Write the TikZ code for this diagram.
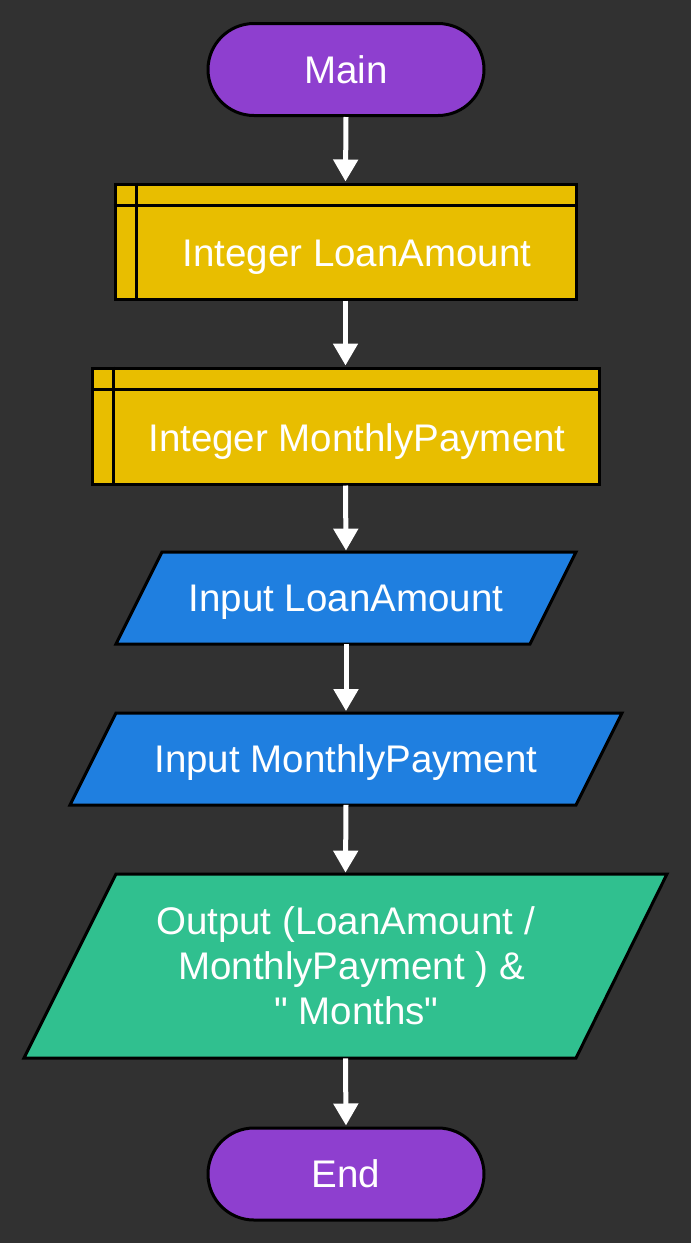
\documentclass[tikz,border=0pt]{standalone}
\usepackage{fontspec}
\setmainfont{Liberation Sans}[Ligatures=TeXOff]
\usetikzlibrary{arrows.meta,calc}
\definecolor{bgc}{HTML}{313131}
\definecolor{termc}{HTML}{8E3FCF}
\definecolor{declc}{HTML}{E8BE00}
\definecolor{inc}{HTML}{1F7FE0}
\definecolor{outc}{HTML}{30C08F}
\tikzset{
  txt/.style={text=white, font=\fontsize{19.25}{22.5}\selectfont, inner sep=0pt, align=center},
  oneline/.style={text height=13.8pt, text depth=0pt},
  term/.style={txt, oneline, draw=black, line width=1.5pt, fill=termc, minimum width=138pt, minimum height=46pt, rounded corners=23pt},
  decl/.style={draw=black, line width=1.5pt, fill=declc, inner sep=0pt},
  shapefill/.style={draw=black, line width=1.5pt, line join=miter},
  flow/.style={draw=white, line width=2.5pt, -{Triangle[width=12pt,length=11pt]}, shorten >=0.5pt}
}
\begin{document}
\begin{tikzpicture}[x=0.5pt,y=-0.5pt]
\fill[bgc] (0,0) rectangle (691,1243);
\useasboundingbox (0,0) rectangle (691,1243);

% Main
\node[term] (main) at (346,69.5) {Main};

% Integer LoanAmount
\node[decl, minimum width=230.5pt, minimum height=57.5pt] (b1) at (345.5,241.5) {};
\draw[black, line width=1.5pt] ($(b1.north west)+(23,0)$) -- ($(b1.south west)+(23,0)$);
\draw[black, line width=1.5pt] ($(b1.north west)+(0,23)$) -- ($(b1.north east)+(0,23)$);
\node[txt, oneline] (b1t) at ($(b1.center)+(11.5,11)$) {Integer LoanAmount};

% Integer MonthlyPayment
\node[decl, minimum width=253.5pt, minimum height=58pt] (b2) at (345.5,426) {};
\draw[black, line width=1.5pt] ($(b2.north west)+(23,0)$) -- ($(b2.south west)+(23,0)$);
\draw[black, line width=1.5pt] ($(b2.north west)+(0,23)$) -- ($(b2.north east)+(0,23)$);
\node[txt, oneline] (b2t) at ($(b2.center)+(11.5,11.5)$) {Integer MonthlyPayment};

% Input LoanAmount
\path[shapefill, fill=inc] (162,552) -- (576,552) -- (530,644) -- (116,644) -- cycle;
\node[txt, oneline, minimum width=207pt, minimum height=46pt] (in1) at (346,598) {Input LoanAmount};

% Input MonthlyPayment
\path[shapefill, fill=inc] (116,713) -- (622,713) -- (576,805) -- (70,805) -- cycle;
\node[txt, oneline, minimum width=253pt, minimum height=46pt] (in2) at (346,758.5) {Input MonthlyPayment};

% Output
\path[shapefill, fill=outc] (116,874) -- (667,874) -- (576,1058) -- (24,1058) -- cycle;
\node[txt, minimum width=276pt, minimum height=92pt] (out) at (345.5,966) {Output (LoanAmount /\\\hspace*{6pt}MonthlyPayment ) \&\\\hspace*{11pt}" Months"};

% End
\node[term] (end) at (346,1174) {End};

% connectors
\draw[flow] (main.south) -- (b1.north);
\draw[flow] (b1.south) -- (b2.north);
\draw[flow] (b2.south) -- (in1.north);
\draw[flow] (in1.south) -- (in2.north);
\draw[flow] (in2.south) -- (out.north);
\draw[flow] (out.south) -- (end.north);
\end{tikzpicture}
\end{document}
